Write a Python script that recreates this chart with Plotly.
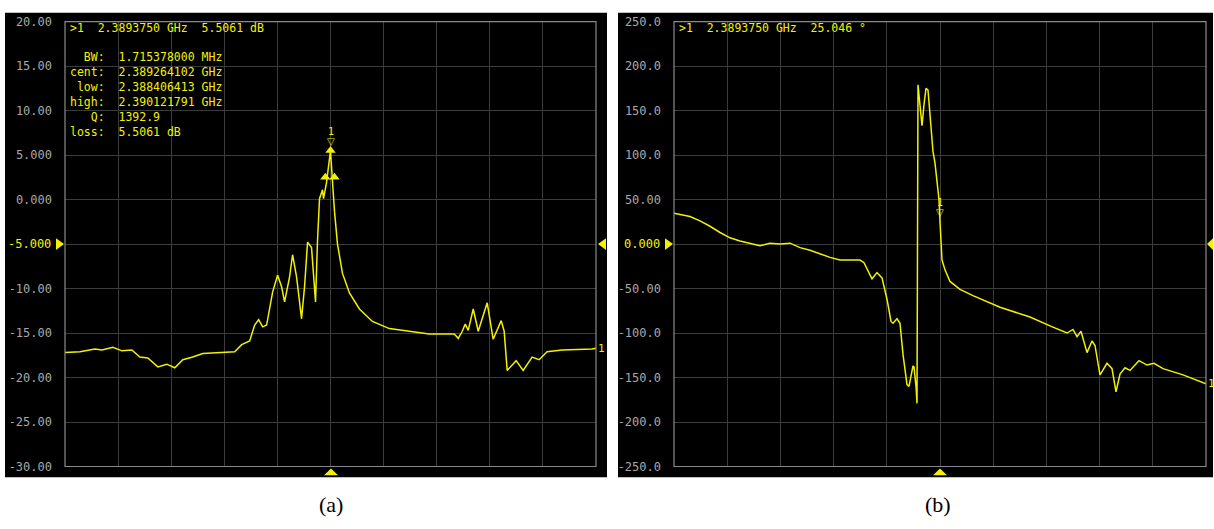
import plotly.graph_objects as go

W, H = 1214, 529

# ---------------- data ----------------
center_ghz = 2.389375
span_ghz = 0.1

# (a) magnitude, dB  -- frequency in GHz
mag_freq = [
    2.339375, 2.342195, 2.345014, 2.346330, 2.348398, 2.350089, 2.351969, 2.353473,
    2.354977, 2.356856, 2.358548, 2.360052, 2.361555, 2.363435, 2.365315, 2.369074,
    2.371330, 2.372646, 2.374149, 2.375089, 2.375841, 2.376593, 2.377345, 2.378473,
    2.379413, 2.380164, 2.380728, 2.381668, 2.382232, 2.382984, 2.383924, 2.384488,
    2.385052, 2.385804, 2.386555, 2.386931, 2.387307, 2.387871, 2.388059, 2.388623,
    2.389375, 2.389751, 2.390127, 2.390691, 2.391631, 2.392946, 2.394826, 2.397270,
    2.400465, 2.404225, 2.407984, 2.412683, 2.413435, 2.414187, 2.414751, 2.415315,
    2.416255, 2.417195, 2.418886, 2.420014, 2.421518, 2.422082, 2.422646, 2.424337,
    2.425653, 2.427345, 2.428661, 2.430164, 2.432984, 2.438623, 2.439375,
]
mag_db = [
    -17.2, -17.1, -16.8, -16.9, -16.6, -17.0, -16.9, -17.7,
    -17.8, -18.8, -18.5, -18.9, -18.0, -17.7, -17.3, -17.2,
    -17.1, -16.3, -15.9, -14.1, -13.5, -14.3, -14.1, -10.4,
    -8.5, -9.8, -11.5, -8.7, -6.2, -8.7, -13.4, -9.8,
    -4.8, -5.4, -11.5, -4.6, 0.1, 1.1, 0.1, 1.9,
    5.5, 2.0, -1.3, -5.0, -8.3, -10.5, -12.3, -13.7,
    -14.5, -14.8, -15.1, -15.1, -15.6, -14.8, -14.0, -14.7,
    -12.3, -14.8, -11.6, -15.7, -13.6, -14.8, -19.2, -18.1,
    -19.2, -17.7, -18.0, -17.1, -16.9, -16.8, -16.7,
]

# (b) phase, degrees
ph_freq = [
    2.339375, 2.342383, 2.344262, 2.346142, 2.348022, 2.349901, 2.351781, 2.353661,
    2.355540, 2.357420, 2.359300, 2.361180, 2.363059, 2.364939, 2.366819, 2.368698,
    2.370578, 2.372458, 2.374337, 2.375089, 2.376593, 2.377533, 2.378473, 2.379413,
    2.380165, 2.380540, 2.381292, 2.381856, 2.382420, 2.383172, 2.383548, 2.384300,
    2.384488, 2.384864, 2.385052, 2.385240, 2.385616, 2.385992, 2.386368, 2.386743,
    2.387119, 2.387307, 2.387683, 2.388059, 2.388435, 2.388811, 2.389187, 2.389375,
    2.389563, 2.389751, 2.390315, 2.391255, 2.393134, 2.395578, 2.400653, 2.406292,
    2.410052, 2.413247, 2.414375, 2.415127, 2.415879, 2.417007, 2.417946, 2.418510,
    2.419450, 2.420766, 2.421706, 2.422458, 2.423210, 2.424149, 2.425089, 2.426781,
    2.428285, 2.429601, 2.431292, 2.435052, 2.439375,
]
ph_deg = [
    34.5, 31.0, 26.0, 20.0, 13.0, 7.0, 3.5, 0.5,
    -2.0, 1.0, 0.0, 1.0, -4.0, -7.0, -11.0, -15.0,
    -18.0, -18.0, -18.0, -21.0, -39.0, -32.0, -38.0, -62.0,
    -87.0, -89.0, -84.0, -89.0, -124.0, -158.0, -160.0, -137.0,
    -138.0, -160.0, -179.0, 179.0, 154.0, 133.0, 157.0, 175.0,
    173.0, 157.0, 137.0, 104.0, 91.0, 73.0, 50.0, 25.046,
    4.0, -18.0, -29.0, -42.0, -51.0, -58.0, -71.0, -82.0,
    -92.0, -100.0, -96.0, -104.0, -98.0, -122.0, -109.0, -114.0,
    -147.0, -134.0, -140.0, -166.0, -146.0, -139.0, -142.0, -131.0,
    -136.0, -134.0, -140.0, -147.0, -157.0,
]

mag_ticks = [20, 15, 10, 5, 0, -5, -10, -15, -20, -25, -30]
mag_ticktext = ["20.00", "15.00", "10.00", "5.000", "0.000", "", "-10.00",
                "-15.00", "-20.00", "-25.00", "-30.00"]
mag_ref = -5
mag_ref_text = "-5.000"

ph_ticks = [250, 200, 150, 100, 50, 0, -50, -100, -150, -200, -250]
ph_ticktext = ["250.0", "200.0", "150.0", "100.0", "50.00", "", "-50.00",
               "-100.0", "-150.0", "-200.0", "-250.0"]
ph_ref = 0
ph_ref_text = "0.000"

marker_f = 2.389375
marker_mag = 5.5061
marker_phase = 25.046
bw_low = 2.388406413
bw_high = 2.390121791
bw_cent = 2.389264102

mag_info = [
    "\u00a0\u00a0BW:\u00a0\u00a01.715378000 MHz",
    "cent:\u00a0\u00a02.389264102 GHz",
    "\u00a0low:\u00a0\u00a02.388406413 GHz",
    "high:\u00a0\u00a02.390121791 GHz",
    "\u00a0\u00a0\u00a0Q:\u00a0\u00a01392.9",
    "loss:\u00a0\u00a05.5061 dB",
]
mag_header = ">1\u00a0\u00a02.3893750 GHz\u00a0\u00a05.5061 dB"
ph_header = ">1\u00a0\u00a02.3893750 GHz\u00a0\u00a025.046 \u00b0"

# ---------------- style / layout ----------------
YEL = "#f2f200"
GRID = "#3c3c3c"
BORDER = "#8a8a8a"
TICKCOL = "#a8a8a8"
MONO = "DejaVu Sans Mono"


def px(x):
    return x / W


def py(y):
    return 1 - y / H


xdomA = [px(65), px(596)]
xdomB = [px(674), px(1206)]
ydom = [py(472), py(15)]

fig = go.Figure()

fig.add_trace(go.Scatter(x=mag_freq, y=mag_db, mode="lines",
                         line=dict(color=YEL, width=1.5), xaxis="x", yaxis="y",
                         showlegend=False, hoverinfo="skip"))
fig.add_trace(go.Scatter(x=ph_freq, y=ph_deg, mode="lines",
                         line=dict(color=YEL, width=1.5), xaxis="x2", yaxis="y2",
                         showlegend=False, hoverinfo="skip"))

# bandwidth markers (filled triangles)
fig.add_trace(go.Scatter(x=[bw_low, bw_high, marker_f],
                         y=[marker_mag - 3, marker_mag - 3, marker_mag],
                         mode="markers",
                         marker=dict(symbol="triangle-up", size=9, color=YEL, line=dict(width=0)),
                         xaxis="x", yaxis="y", showlegend=False, hoverinfo="skip",
                         cliponaxis=False))

xr = [center_ghz - span_ghz / 2, center_ghz + span_ghz / 2]
xdt = span_ghz / 10

common_x = dict(range=xr, dtick=xdt, tick0=xr[0], showticklabels=False, ticks="",
                showgrid=True, gridcolor=GRID, gridwidth=1, zeroline=False,
                showline=False, fixedrange=True)

fig.update_layout(
    width=W, height=H,
    margin=dict(l=0, r=0, t=0, b=0),
    paper_bgcolor="white", plot_bgcolor="black",
    font=dict(family=MONO, size=12, color=TICKCOL),
    xaxis=dict(domain=xdomA, anchor="y", **common_x),
    yaxis=dict(domain=ydom, anchor="x", range=[-30, 20], tickvals=mag_ticks,
               ticktext=mag_ticktext, showgrid=True, gridcolor=GRID, zeroline=False,
               showline=False, ticks="", ticklabelstandoff=12,
               tickfont=dict(family=MONO, size=12, color=TICKCOL)),
    xaxis2=dict(domain=xdomB, anchor="y2", **common_x),
    yaxis2=dict(domain=ydom, anchor="x2", range=[-250, 250], tickvals=ph_ticks,
                ticktext=ph_ticktext, showgrid=True, gridcolor=GRID, zeroline=False,
                showline=False, ticks="", ticklabelstandoff=12,
                tickfont=dict(family=MONO, size=12, color=TICKCOL)),
)

shapes = []
# black instrument panels
shapes.append(dict(type="rect", xref="paper", yref="paper", x0=px(5), x1=px(607),
                   y0=py(483), y1=py(6), fillcolor="black", line=dict(width=0), layer="below"))
shapes.append(dict(type="rect", xref="paper", yref="paper", x0=px(618), x1=px(1213),
                   y0=py(483), y1=py(6), fillcolor="black", line=dict(width=0), layer="below"))
# plot borders
for xa, ya in (("x", "y"), ("x2", "y2")):
    shapes.append(dict(type="rect", xref=f"{xa} domain", yref=f"{ya} domain",
                       x0=0, x1=1, y0=0, y1=1, line=dict(color=BORDER, width=1.2),
                       layer="above"))


def tri(points):
    d = "M " + " L ".join(f"{px(a)},{py(b)}" for a, b in points) + " Z"
    return dict(type="path", path=d, xref="paper", yref="paper",
                fillcolor=YEL, line=dict(width=0), layer="above")


# reference-level and stimulus triangles (panel decorations)
mag_ref_py = 15 + (20 - mag_ref) / 50 * 457
ph_ref_py = 15 + (250 - ph_ref) / 500 * 457
shapes.append(tri([(56, mag_ref_py - 6), (56, mag_ref_py + 6), (64, mag_ref_py)]))
shapes.append(tri([(606, mag_ref_py - 6), (606, mag_ref_py + 6), (598, mag_ref_py)]))
shapes.append(tri([(324, 481), (338, 481), (331, 474)]))
shapes.append(tri([(665, ph_ref_py - 6), (665, ph_ref_py + 6), (673, ph_ref_py)]))
shapes.append(tri([(1213, ph_ref_py - 6), (1213, ph_ref_py + 6), (1207, ph_ref_py)]))
shapes.append(tri([(933, 481), (947, 481), (940, 474)]))
fig.update_layout(shapes=shapes)

ann = []
# yellow reference-level tick labels
ann.append(dict(xref="paper", yref="y", x=px(53), y=mag_ref, text=mag_ref_text,
                showarrow=False, xanchor="right", yanchor="middle",
                font=dict(family=MONO, size=12, color=YEL)))
ann.append(dict(xref="paper", yref="y2", x=px(662), y=ph_ref, text=ph_ref_text,
                showarrow=False, xanchor="right", yanchor="middle",
                font=dict(family=MONO, size=12, color=YEL)))
# headers
ann.append(dict(xref="paper", yref="paper", x=px(68), y=py(22), text=mag_header,
                showarrow=False, xanchor="left", yanchor="middle",
                font=dict(family=MONO, size=11.5, color=YEL)))
ann.append(dict(xref="paper", yref="paper", x=px(677), y=py(22), text=ph_header,
                showarrow=False, xanchor="left", yanchor="middle",
                font=dict(family=MONO, size=11.5, color=YEL)))
ann.append(dict(xref="paper", yref="paper", x=px(68), y=py(42), text="<br>".join(mag_info),
                showarrow=False, xanchor="left", yanchor="top", align="left",
                font=dict(family=MONO, size=11.5, color=YEL)))
# marker "1" glyphs
for xa, ya, yv in (("x", "y", marker_mag), ("x2", "y2", marker_phase)):
    ann.append(dict(xref=xa, yref=ya, x=marker_f, y=yv, text="\u25bd", showarrow=False,
                    yshift=9, font=dict(family="DejaVu Sans", size=10, color=YEL)))
    ann.append(dict(xref=xa, yref=ya, x=marker_f, y=yv, text="1", showarrow=False,
                    yshift=19, font=dict(family=MONO, size=10, color=YEL)))
# trace end labels
ann.append(dict(xref="paper", yref="y", x=px(596), y=mag_db[-1], text="1", showarrow=False,
                xanchor="left", yanchor="middle", font=dict(family=MONO, size=11, color=YEL)))
ann.append(dict(xref="paper", yref="y2", x=px(1206), y=ph_deg[-1], text="1", showarrow=False,
                xanchor="left", yanchor="middle", font=dict(family=MONO, size=11, color=YEL)))
# captions
ann.append(dict(xref="paper", yref="paper", x=px(331), y=py(511), text="(a)", showarrow=False,
                xanchor="center", yanchor="middle",
                font=dict(family="Liberation Serif", size=22, color="black")))
ann.append(dict(xref="paper", yref="paper", x=px(938), y=py(511), text="(b)", showarrow=False,
                xanchor="center", yanchor="middle",
                font=dict(family="Liberation Serif", size=22, color="black")))
fig.update_layout(annotations=ann)

fig.write_html("out.html", post_script="document.body.style.margin='0';",
               config={"displayModeBar": False})
